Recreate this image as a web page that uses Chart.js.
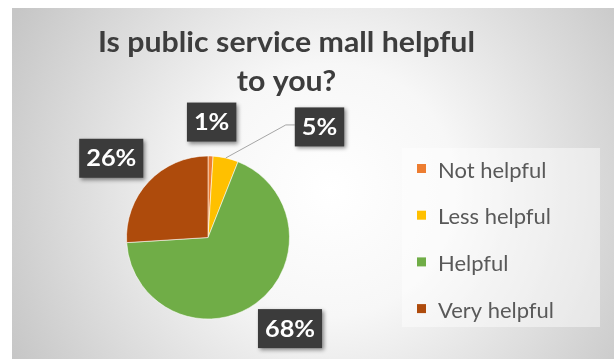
<!DOCTYPE html>
<html>
<head>
<meta charset="utf-8">
<script src="https://cdn.jsdelivr.net/npm/chart.js@4"></script>
<style>
  html, body { margin: 0; padding: 0; background: #ffffff; }
  #wrap { width: 614px; height: 359px; }
</style>
</head>
<body>
<div id="wrap"><canvas id="c" width="614" height="359"></canvas></div>
<script>
// Survey answers and their shares (percent)
const categories = ['Not helpful', 'Less helpful', 'Helpful', 'Very helpful'];
const shares = [1, 5, 68, 26];
const sliceColors = ['#ED7D31', '#FFC000', '#70AD47', '#AE4B0C'];
const titleLines = ['Is public service mall helpful', 'to you?'];

// Label placement: distance beyond the rim, a sideways nudge,
// and whether a leader line joins the label to its slice.
const labelGap = [34, 40, 41, 43];
const labelShift = [[0, 0], [85, 8], [10, -8], [-6, 6]];
const labelLeader = [false, true, false, false];

const FONT = 'Lato, "Open Sans", sans-serif';

// Draw text with a horizontal stretch around its anchor point
function drawText(ctx, text, x, y, align, sx) {
  ctx.save();
  ctx.translate(x, y);
  ctx.scale(sx, 1);
  ctx.textAlign = align;
  ctx.fillText(text, 0, 0);
  ctx.restore();
}

const backgroundPlugin = {
  id: 'panelBackground',
  beforeDraw(chart) {
    const ctx = chart.ctx;
    const x0 = 12, y0 = 8, x1 = chart.width, y1 = chart.height;
    ctx.save();
    ctx.fillStyle = '#ffffff';
    ctx.fillRect(0, 0, chart.width, chart.height);
    const cx = 330, cy = 190;
    const g = ctx.createRadialGradient(cx, cy, 0, cx, cy, 360);
    g.addColorStop(0, '#ffffff');
    g.addColorStop(0.35, '#f7f7f7');
    g.addColorStop(1, '#c6c6c6');
    ctx.fillStyle = g;
    ctx.fillRect(x0, y0, x1 - x0, y1 - y0);

    // title
    ctx.fillStyle = '#3d3d3d';
    ctx.font = 'bold 28px ' + FONT;
    ctx.textBaseline = 'alphabetic';
    drawText(ctx, titleLines[0], 286.5, 52, 'center', 1.083);
    drawText(ctx, titleLines[1], 286.5, 91, 'center', 1.083);

    // legend panel
    ctx.fillStyle = 'rgba(255,255,255,0.45)';
    ctx.fillRect(402, 148, 198, 179);
    ctx.font = '21px ' + FONT;
    ctx.textBaseline = 'middle';
    categories.forEach((name, i) => {
      const yc = 171 + i * 46.7;
      ctx.fillStyle = sliceColors[i];
      ctx.fillRect(417, yc - 7, 9, 9);
      ctx.fillStyle = '#595959';
      drawText(ctx, name, 438, yc, 'left', 1.045);
    });
    ctx.restore();
  }
};

const labelPlugin = {
  id: 'boxedLabels',
  afterDatasetsDraw(chart) {
    const ctx = chart.ctx;
    const meta = chart.getDatasetMeta(0);
    const sx = 1.15;
    ctx.save();
    ctx.font = 'bold 22px ' + FONT;
    meta.data.forEach((arc, i) => {
      const p = arc.getProps(['x', 'y', 'startAngle', 'endAngle', 'outerRadius'], true);
      const mid = (p.startAngle + p.endAngle) / 2;
      const dx = Math.cos(mid), dy = Math.sin(mid);
      const d = p.outerRadius + labelGap[i];
      const bx = p.x + dx * d + labelShift[i][0];
      const by = p.y + dy * d + labelShift[i][1];
      const text = shares[i] + '%';
      const w = ctx.measureText(text).width * sx + 14;
      const h = 39;

      if (labelLeader[i]) {
        const rx = p.x + dx * p.outerRadius, ry = p.y + dy * p.outerRadius;
        ctx.strokeStyle = '#a6a6a6';
        ctx.lineWidth = 1;
        ctx.beginPath();
        ctx.moveTo(rx, ry);
        ctx.lineTo(bx - w / 2 - 9, by - 2);
        ctx.lineTo(bx - w / 2, by - 2);
        ctx.stroke();
      }

      ctx.shadowColor = 'rgba(0,0,0,0.45)';
      ctx.shadowBlur = 4;
      ctx.shadowOffsetX = 2;
      ctx.shadowOffsetY = 2;
      ctx.fillStyle = '#3b3b3b';
      ctx.fillRect(bx - w / 2, by - h / 2, w, h);
      ctx.shadowColor = 'transparent';
      ctx.fillStyle = '#ffffff';
      ctx.textBaseline = 'middle';
      drawText(ctx, text, bx, by + 1, 'center', sx);
    });
    ctx.restore();
  }
};

new Chart(document.getElementById('c'), {
  type: 'pie',
  data: {
    labels: categories,
    datasets: [{
      data: shares,
      backgroundColor: sliceColors,
      borderColor: 'rgba(255,255,255,0.55)',
      borderWidth: 1,
      hoverOffset: 0,
      offset: 0
    }]
  },
  options: {
    responsive: false,
    animation: false,
    events: [],
    layout: { padding: { left: 126, right: 324, top: 155.5, bottom: 39.5 } },
    plugins: {
      legend: { display: false },
      title: { display: false },
      tooltip: { enabled: false }
    }
  },
  plugins: [backgroundPlugin, labelPlugin]
});
</script>
</body>
</html>
